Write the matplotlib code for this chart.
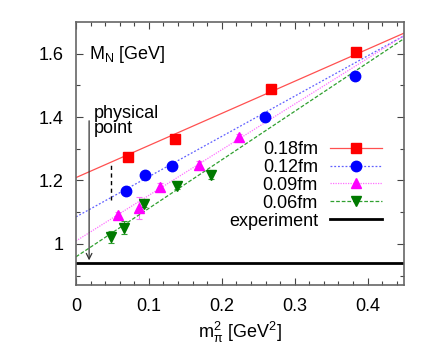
import numpy as np
import matplotlib
matplotlib.use('Agg')
import matplotlib.pyplot as plt
from matplotlib.lines import Line2D

plt.rcParams['font.family'] = ['Liberation Sans', 'DejaVu Sans']
plt.rcParams['mathtext.fontset'] = 'custom'
plt.rcParams['mathtext.rm'] = 'Liberation Sans'
plt.rcParams['mathtext.it'] = 'Liberation Sans'

# lattice data
x_018 = [0.072, 0.136, 0.267, 0.384]
y_018 = [1.275, 1.332, 1.490, 1.606]
e_018 = [0.006, 0.008, 0.008, 0.008]

x_012 = [0.068, 0.094, 0.132, 0.259, 0.383]
y_012 = [1.167, 1.216, 1.246, 1.401, 1.531]
e_012 = [0.006, 0.006, 0.006, 0.006, 0.006]

x_009 = [0.057, 0.0865, 0.115, 0.169, 0.224]
y_009 = [1.091, 1.114, 1.179, 1.249, 1.337]
e_009 = [0.010, 0.035, 0.012, 0.012, 0.010]

x_006 = [0.048, 0.0656, 0.093, 0.139, 0.185]
y_006 = [1.022, 1.051, 1.125, 1.182, 1.216]
e_006 = [0.020, 0.020, 0.010, 0.010, 0.010]

# linear fits: intercept, slope
fit_intercepts = [1.209, 1.085, 1.009, 0.959]
fit_slopes = [1.013, 1.27, 1.44, 1.53]

labels = ['0.18fm', '0.12fm', '0.09fm', '0.06fm']
colors = ['#ff0000', '#0000ff', '#ff00ff', '#007a00']
line_colors = ['#ff5050', '#6060ff', '#ff70ff', '#30a030']
markers = ['s', 'o', '^', 'v']
styles = ['-', (0, (1.5, 1.5)), (0, (1, 1)), (0, (3, 1.5))]

m_exp = 0.939
m_pi2_phys = 0.018

fig = plt.figure(figsize=(4.36, 3.59), dpi=100)
ax = fig.add_axes([0.1743, 0.2061, 0.7523, 0.7326])

xs = np.linspace(0, 0.45, 50)
handles = []
data = [(x_018, y_018, e_018), (x_012, y_012, e_012),
        (x_009, y_009, e_009), (x_006, y_006, e_006)]
for i, (x, y, e) in enumerate(data):
    ax.plot(xs, fit_intercepts[i] + fit_slopes[i] * xs, color=line_colors[i],
            ls=styles[i], lw=0.9)
    ax.errorbar(x, y, yerr=e, fmt=markers[i], color=colors[i], ms=7.5,
                ecolor=line_colors[i], elinewidth=0.8, capsize=2, capthick=0.8)
    handles.append(Line2D([], [], color=line_colors[i], ls=styles[i], lw=0.9,
                          marker=markers[i], mfc=colors[i], mec=colors[i], ms=7.5))

ax.axhline(m_exp, color='black', lw=2)
handles.append(Line2D([], [], color='black', lw=2))

ax.annotate('', xy=(m_pi2_phys, m_exp), xytext=(m_pi2_phys, 1.397),
            arrowprops=dict(arrowstyle='->', color='#333333', lw=0.9))
ax.plot([0.048, 0.048], [1.139, 1.249], color='black', ls=(0, (3, 2.5)), lw=1)

ax.text(0.024, 1.437, 'physical\npoint', fontsize=13, va='top', ha='left',
        linespacing=0.85)
ax.text(0.018, 1.598, r'M$_\mathrm{N}$ [GeV]', fontsize=13, va='center', ha='left')

leg = ax.legend(handles, labels + ['experiment'], loc='upper right',
                bbox_to_anchor=(0.955, 0.575), frameon=False, markerfirst=False,
                fontsize=13, handlelength=2.9, handletextpad=0.65,
                labelspacing=0.05, numpoints=1, borderaxespad=0)

ax.set_xlim(0, 0.45)
ax.set_ylim(0.87, 1.70)
ax.set_xticks([0, 0.1, 0.2, 0.3, 0.4])
ax.set_xticklabels(['0', '0.1', '0.2', '0.3', '0.4'])
ax.set_xticks(np.arange(0, 0.45, 0.02), minor=True)
ax.set_yticks([1.0, 1.2, 1.4, 1.6])
ax.set_yticklabels(['1', '1.2', '1.4', '1.6'])
ax.set_yticks([0.9, 1.1, 1.3, 1.5], minor=True)
ax.tick_params(which='both', direction='in', top=True, right=True,
               labelsize=13, color='#444444')
ax.tick_params(which='major', length=5, width=0.8, pad=9)
ax.tick_params(which='minor', length=3, width=0.8)
for s in ax.spines.values():
    s.set_color('#666666')
    s.set_linewidth(1.2)

ax.set_xlabel(r'm$_\pi^2$ [GeV$^2$]', fontsize=13, labelpad=4)

fig.savefig('out.png', dpi=100)
